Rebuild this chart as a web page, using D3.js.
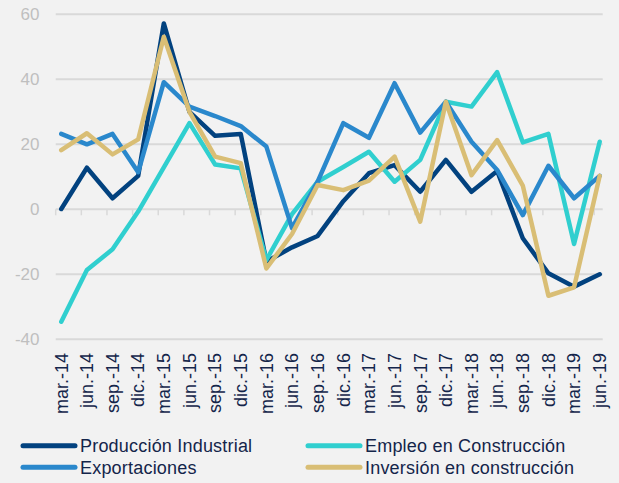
<!DOCTYPE html>
<html>
<head>
<meta charset="utf-8">
<script src="https://cdn.jsdelivr.net/npm/d3@7"></script>
<style>
  html, body { margin: 0; padding: 0; background: #f2f2f2; }
  svg { display: block; }
  text { font-family: "Liberation Sans", Arial, sans-serif; }
</style>
</head>
<body>
<svg id="chart" width="619" height="483"></svg>
<script>
// Quarterly year-on-year changes (%)
const quarters = ["mar.-14","jun.-14","sep.-14","dic.-14","mar.-15","jun.-15","sep.-15","dic.-15",
  "mar.-16","jun.-16","sep.-16","dic.-16","mar.-17","jun.-17","sep.-17","dic.-17",
  "mar.-18","jun.-18","sep.-18","dic.-18","mar.-19","jun.-19"];

const produccionIndustrial = [0.1, 12.8, 3.4, 10.3, 57.2, 30.0, 22.6, 23.2, -16.1, -11.7, -8.2, 2.5,
  11.1, 13.6, 5.4, 15.2, 5.4, 11.8, -8.9, -19.7, -23.8, -20.0];
const empleoConstruccion = [-34.6, -18.7, -12.3, -0.7, 12.9, 26.5, 13.8, 12.6, -15.6, -1.5, 8.5, 13.0,
  17.7, 8.5, 15.2, 33.1, 31.6, 42.2, 20.6, 23.2, -10.7, 20.8];
const exportaciones = [23.2, 20.0, 23.2, 11.4, 39.1, 31.6, 28.7, 25.6, 19.3, -5.8, 8.5, 26.5,
  22.0, 38.8, 23.6, 33.1, 20.8, 12.1, -1.8, 13.4, 3.4, 10.3];
const inversionConstruccion = [18.2, 23.4, 16.9, 21.5, 53.1, 30.0, 16.2, 14.2, -18.2, -7.6, 7.5, 5.9,
  8.8, 16.2, -3.8, 33.1, 10.5, 21.3, 7.3, -26.6, -24.0, 10.3];

const seriesNames = ["Producción Industrial", "Empleo en Construcción", "Exportaciones", "Inversión en construcción"];
const yTicks = [60, 40, 20, 0, -20, -40];

const series = [
  { name: seriesNames[0], values: produccionIndustrial, color: "#02427f" },
  { name: seriesNames[1], values: empleoConstruccion, color: "#30cfcf" },
  { name: seriesNames[2], values: exportaciones, color: "#2a88cc" },
  { name: seriesNames[3], values: inversionConstruccion, color: "#d9be75" }
];

const svg = d3.select("#chart");

// Month-based horizontal scale: each quarter spans three months, points sit inside their month
const nMonths = quarters.length * 3 - 2;
const x = d3.scaleLinear().domain([0, nMonths]).range([55.7, 602.7]);
const xPoint = i => x(i * 3 + 0.65);
const y = d3.scaleLinear().domain([-40, 60]).range([339.3, 14.3]);

// Horizontal gridlines
svg.append("g")
  .selectAll("line")
  .data(yTicks)
  .join("line")
  .attr("x1", x(0)).attr("x2", x(nMonths))
  .attr("y1", d => y(d)).attr("y2", d => y(d))
  .attr("stroke", "#d9d9d9")
  .attr("stroke-width", 2);

// Value labels on the left
svg.append("g")
  .selectAll("text")
  .data(yTicks)
  .join("text")
  .attr("x", 39.5)
  .attr("y", d => y(d))
  .attr("dy", "0.35em")
  .attr("text-anchor", "end")
  .attr("font-size", 17)
  .attr("fill", "#bfbfbf")
  .text(d => d);

// Quarter tick marks hanging from the zero line
svg.append("g")
  .selectAll("line")
  .data(d3.range(quarters.length))
  .join("line")
  .attr("x1", i => x(i * 3)).attr("x2", i => x(i * 3))
  .attr("y1", y(0)).attr("y2", y(0) + 6)
  .attr("stroke", "#d9d9d9")
  .attr("stroke-width", 1.5);

// Rotated quarter labels
svg.append("g")
  .selectAll("text")
  .data(quarters)
  .join("text")
  .attr("transform", (d, i) => `translate(${xPoint(i)},353) rotate(-90)`)
  .attr("dy", "0.35em")
  .attr("text-anchor", "end")
  .attr("font-size", 18)
  .attr("fill", "#14254a")
  .text(d => d);

// Series lines
const line = d3.line()
  .x((d, i) => xPoint(i))
  .y(d => y(d));

svg.append("g")
  .selectAll("path")
  .data(series)
  .join("path")
  .attr("d", d => line(d.values))
  .attr("fill", "none")
  .attr("stroke", d => d.color)
  .attr("stroke-width", 4.5)
  .attr("stroke-linejoin", "round")
  .attr("stroke-linecap", "round");

// Legend, two columns
const legendPos = [
  { x: 23, y: 445.7 }, { x: 308, y: 445.7 },
  { x: 23, y: 467.3 }, { x: 308, y: 467.3 }
];
const legend = svg.append("g")
  .selectAll("g")
  .data(series)
  .join("g")
  .attr("transform", (d, i) => `translate(${legendPos[i].x},${legendPos[i].y})`);

legend.append("line")
  .attr("x1", 0).attr("x2", 52)
  .attr("y1", 0).attr("y2", 0)
  .attr("stroke", d => d.color)
  .attr("stroke-width", 5)
  .attr("stroke-linecap", "round");

legend.append("text")
  .attr("x", 57)
  .attr("dy", "0.35em")
  .attr("font-size", 18)
  .attr("letter-spacing", 0.2)
  .attr("fill", "#14254a")
  .text(d => d.name);
</script>
</body>
</html>
